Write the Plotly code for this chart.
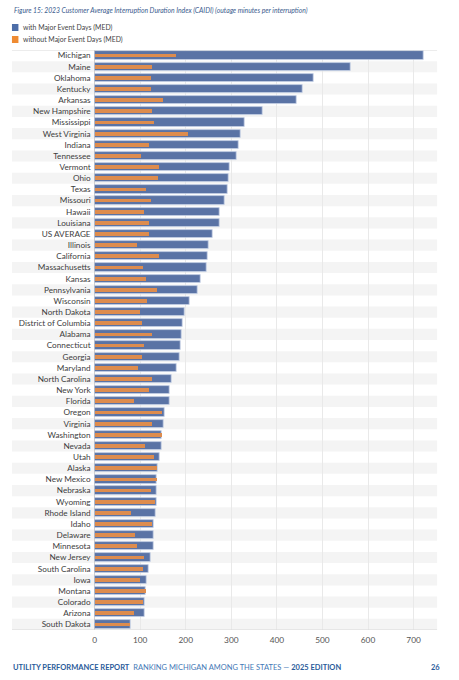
import plotly.graph_objects as go

states = ["Michigan", "Maine", "Oklahoma", "Kentucky", "Arkansas", "New Hampshire",
          "Mississippi", "West Virginia", "Indiana", "Tennessee", "Vermont", "Ohio",
          "Texas", "Missouri", "Hawaii", "Louisiana", "US AVERAGE", "Illinois",
          "California", "Massachusetts", "Kansas", "Pennsylvania", "Wisconsin",
          "North Dakota", "District of Columbia", "Alabama", "Connecticut", "Georgia",
          "Maryland", "North Carolina", "New York", "Florida", "Oregon", "Virginia",
          "Washington", "Nevada", "Utah", "Alaska", "New Mexico", "Nebraska", "Wyoming",
          "Rhode Island", "Idaho", "Delaware", "Minnesota", "New Jersey",
          "South Carolina", "Iowa", "Montana", "Colorado", "Arizona", "South Dakota"]

with_med = [723, 562, 481, 457, 444, 368, 329, 320, 316, 312, 296, 294, 291, 286, 275,
            275, 260, 250, 248, 246, 232, 227, 208, 197, 193, 191, 188, 186, 180, 170,
            165, 165, 154, 151, 147, 146, 143, 138, 136, 135, 135, 133, 130, 130, 130,
            123, 119, 115, 112, 110, 110, 79]

without_med = [177, 124, 122, 122, 149, 126, 129, 205, 118, 100, 141, 139, 111, 123, 107,
               118, 119, 92, 141, 106, 111, 135, 114, 98, 104, 125, 107, 103, 95, 124,
               119, 85, 146, 125, 146, 109, 130, 137, 135, 123, 131, 78, 125, 87, 93,
               107, 106, 98, 111, 105, 86, 76]

x_ticks = [0, 100, 200, 300, 400, 500, 600, 700]

title_text = "Figure 15: 2023 Customer Average Interruption Duration Index (CAIDI) (outage minutes per interruption)"
legend_labels = ["with Major Event Days (MED)", "without Major Event Days (MED)"]

W, H = 459, 680
BLUE = "#5a73a5"
ORANGE = "#dd8c4e"
FONT = "Lato"

fig = go.Figure()
fig.add_trace(go.Bar(
    y=states, x=with_med, orientation="h", width=0.74, name=legend_labels[0],
    marker=dict(color=BLUE, line=dict(color="#c5d0e6", width=0.8)),
    showlegend=False, hoverinfo="x+y"))
fig.add_trace(go.Bar(
    y=states, x=without_med, orientation="h", width=0.34, name=legend_labels[1],
    marker=dict(color=ORANGE, line=dict(width=0)),
    showlegend=False, hoverinfo="x+y"))

shapes = []
x0p, x1p = 10 / W, 437 / W
for i in range(len(states)):
    if i % 2 == 1:
        shapes.append(dict(type="rect", xref="paper", yref="y", x0=x0p, x1=x1p,
                           y0=i - 0.5, y1=i + 0.5, fillcolor="#f4f4f4",
                           line=dict(width=0), layer="below"))
# top / bottom border lines
for yy in (-0.5, len(states) - 0.5):
    shapes.append(dict(type="line", xref="paper", yref="y", x0=x0p, x1=x1p,
                       y0=yy, y1=yy, line=dict(color="#d9d9d9", width=1)))
# legend swatches
for k, col in enumerate(["#4c6da8", "#ef8b32"]):
    yc = 27.5 + k * 12
    shapes.append(dict(type="rect", xref="paper", yref="paper",
                       x0=10 / W, x1=16.5 / W, y0=1 - (yc + 3.5) / H, y1=1 - (yc - 3.5) / H,
                       fillcolor=col, line=dict(width=0)))

annotations = [
    dict(text="<i>" + title_text + "</i>", xref="paper", yref="paper",
         x=10.5 / W, y=1 - 10.5 / H, xanchor="left", yanchor="middle", showarrow=False,
         font=dict(family=FONT, size=6.8, color="#3b5c8e")),
]
for k, lab in enumerate(legend_labels):
    annotations.append(dict(text=lab, xref="paper", yref="paper",
                            x=19 / W, y=1 - (27.5 + k * 12) / H, xanchor="left",
                            yanchor="middle", showarrow=False,
                            font=dict(family=FONT, size=6.9, color="#444444")))
annotations.append(dict(
    text=("<b>UTILITY PERFORMANCE REPORT</b>&nbsp;&nbsp;"
          "<span style='color:#4479b6'>RANKING MICHIGAN AMONG THE STATES — </span>"
          "<b>2025 EDITION</b>"),
    xref="paper", yref="paper", x=9.5 / W, y=1 - 667.5 / H, xanchor="left",
    yanchor="middle", showarrow=False,
    font=dict(family=FONT, size=7.5, color="#2a5b9a")))
annotations.append(dict(text="<b>26</b>", xref="paper", yref="paper", x=442 / W,
                        y=1 - 667.5 / H, xanchor="right", yanchor="middle",
                        showarrow=False, font=dict(family=FONT, size=7.5, color="#2a5b9a")))

fig.update_layout(
    width=W, height=H, margin=dict(l=0, r=0, t=0, b=0),
    paper_bgcolor="white", plot_bgcolor="rgba(0,0,0,0)",
    barmode="overlay", bargap=0,
    shapes=shapes, annotations=annotations,
    font=dict(family=FONT),
    xaxis=dict(domain=[93 / W, 437 / W], range=[0, (437 - 93) / 0.4577],
               tickvals=x_ticks, ticktext=[str(t) for t in x_ticks],
               showgrid=True, gridcolor="#e9e9e9", gridwidth=1,
               zeroline=True, zerolinecolor="#d0d0d0", zerolinewidth=1,
               showline=False, ticks="", ticklabelstandoff=4,
               tickfont=dict(family=FONT, size=8.3, color="#555555"),
               fixedrange=True),
    yaxis=dict(domain=[1 - 630 / H, 1 - 50 / H], type="category",
               categoryorder="array", categoryarray=states,
               range=[len(states) - 0.5, -0.5], showgrid=False, zeroline=False,
               ticks="", ticklabelstandoff=3,
               tickfont=dict(family=FONT, size=8.2, color="#3d3d3d"), fixedrange=True),
)

fig.write_html("out.html", config={"displayModeBar": False},
               post_script="document.body.style.margin='0';")
